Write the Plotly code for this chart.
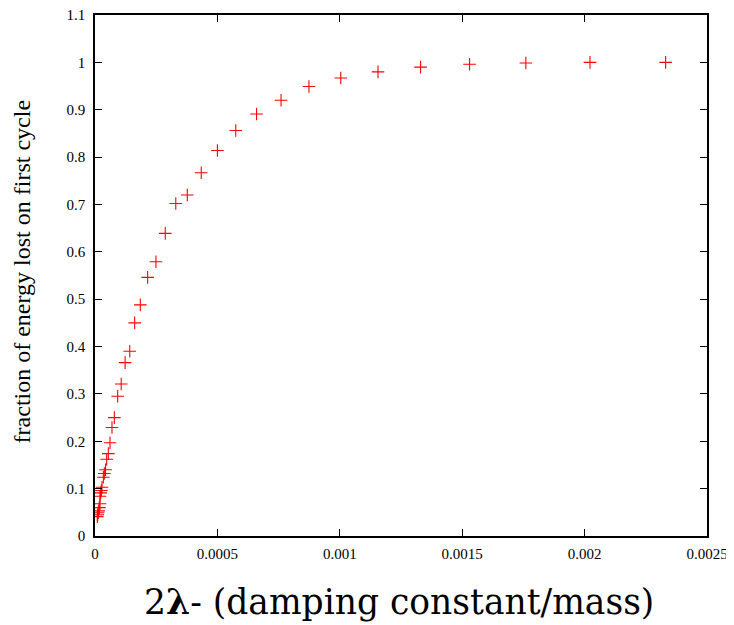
import plotly.graph_objects as go

# 2*lambda values (damping constant / mass)
damping = [
    0.0000095, 0.0000110, 0.0000130, 0.0000150, 0.0000175, 0.0000204, 0.0000204,
    0.0000232, 0.0000260, 0.0000286, 0.0000341, 0.0000381, 0.0000430, 0.0000477,
    0.0000544, 0.0000613, 0.0000694, 0.0000790, 0.0000926, 0.000107, 0.000123,
    0.000142, 0.000162, 0.000185, 0.000215, 0.000249, 0.000287, 0.000330,
    0.000377, 0.000434, 0.000500, 0.000575, 0.000660, 0.000760, 0.000874,
    0.001004, 0.001156, 0.001330, 0.001530, 0.001760, 0.002022, 0.002331,
]
# fraction of energy lost on the first cycle
energy_lost = [
    0.041, 0.045, 0.049, 0.053, 0.060, 0.068, 0.084,
    0.091, 0.096, 0.103, 0.124, 0.132, 0.140, 0.162,
    0.174, 0.197, 0.229, 0.250, 0.295, 0.321, 0.366,
    0.390, 0.450, 0.488, 0.546, 0.579, 0.639, 0.702,
    0.720, 0.767, 0.814, 0.856, 0.891, 0.920, 0.949,
    0.967, 0.980, 0.990, 0.996, 0.9985, 1.0, 1.0,
]

x_ticks = [0, 0.0005, 0.001, 0.0015, 0.002, 0.0025]
x_labels = ["0", "0.0005", "0.001", "0.0015", "0.002", "0.0025"]
y_ticks = [0, 0.1, 0.2, 0.3, 0.4, 0.5, 0.6, 0.7, 0.8, 0.9, 1.0, 1.1]
y_labels = ["0", "0.1", "0.2", "0.3", "0.4", "0.5", "0.6", "0.7", "0.8", "0.9", "1", "1.1"]

fig = go.Figure()
fig.add_trace(go.Scatter(
    x=damping, y=energy_lost, mode="markers",
    marker=dict(symbol="cross-thin", size=9, color="red",
                line=dict(color="red", width=1.1)),
    showlegend=False,
))

serif = "Liberation Serif"

# page body adds an 8px offset, so the figure is shifted back by that much
fig.update_layout(
    width=726, height=617,
    margin=dict(l=87, r=27, t=7, b=89),
    paper_bgcolor="white", plot_bgcolor="white",
    font=dict(family=serif, color="black", size=15),
)
fig.update_xaxes(
    range=[0, 0.0025], tickvals=x_ticks, ticktext=x_labels,
    showgrid=False, zeroline=False, automargin=False, ticklabeloverflow="allow",
    showline=True, linecolor="black", linewidth=1.5, mirror="ticks",
    ticks="inside", ticklen=7, tickwidth=1.3, tickcolor="black",
    tickfont=dict(family=serif, size=15), ticklabelstandoff=3,
)
fig.update_yaxes(
    range=[0, 1.1], tickvals=y_ticks, ticktext=y_labels,
    showgrid=False, zeroline=False, automargin=False, ticklabeloverflow="allow",
    showline=True, linecolor="black", linewidth=1.5, mirror="ticks",
    ticks="inside", ticklen=7, tickwidth=1.3, tickcolor="black",
    tickfont=dict(family=serif, size=15), ticklabelstandoff=5,
)

# axis titles placed as annotations to match the reference positions
fig.add_annotation(
    text="2<b>λ</b>- (damping constant/mass)",
    xref="paper", yref="paper", x=0.497, y=-0.127,
    xanchor="center", yanchor="middle", showarrow=False,
    font=dict(family="DejaVu Serif", size=34.5, color="black"),
)
fig.add_annotation(
    text="fraction of energy lost on first cycle",
    xref="paper", yref="paper", x=-0.12, y=0.507,
    xanchor="center", yanchor="middle", showarrow=False, textangle=-90,
    font=dict(family=serif, size=24, color="black"),
)

fig.write_html("out.html")
